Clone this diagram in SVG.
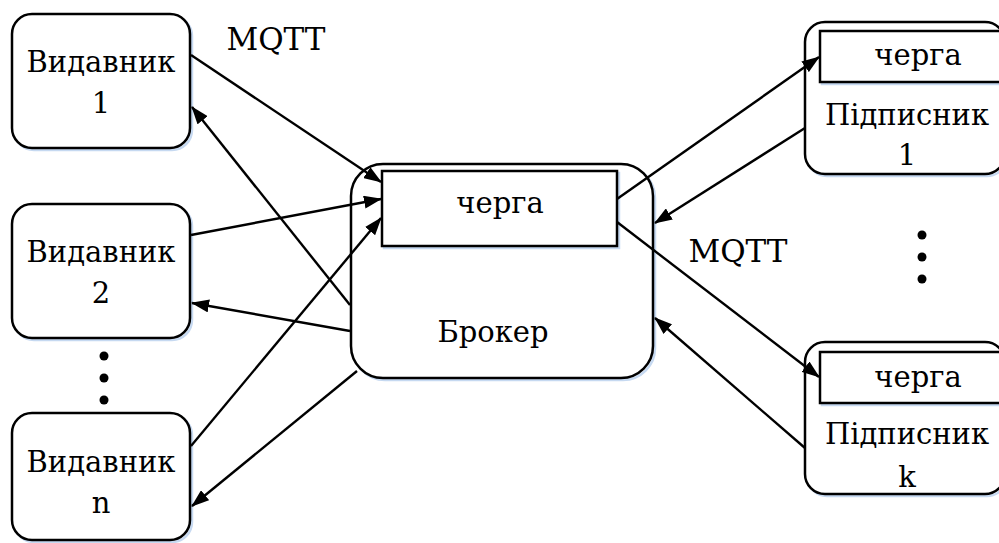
<svg xmlns="http://www.w3.org/2000/svg" width="999" height="543" viewBox="0 0 999 543">
<style>
.box{fill:#fff;stroke:#000;stroke-width:2.5}
.sh{fill:none;stroke:#c6d9f1;stroke-width:2.5}
.q{fill:#fff;stroke:#000;stroke-width:2.5}
.t{font-family:"DejaVu Serif","Liberation Serif",serif;font-size:29px;fill:#000;text-anchor:middle}
.m{font-size:31px}
.c line{stroke:#000;stroke-width:2.4;marker-end:url(#ah)}
</style>
<defs>
<marker id="ah" markerUnits="userSpaceOnUse" markerWidth="19" markerHeight="13" refX="17" refY="6.5" orient="auto">
<path d="M0,0 L18,6.5 L0,13 Z" fill="#000"/>
</marker>
</defs>
<rect width="999" height="543" fill="#fff"/>
<g id="pub1">
<rect class="sh" x="14" y="16" width="178" height="134" rx="20"/>
<rect class="box" x="12" y="14" width="178" height="134" rx="20"/>
<text class="t" x="101" y="72">Видавник</text>
<text class="t" x="101" y="113">1</text>
</g>
<g id="pub2">
<rect class="sh" x="14" y="206" width="178" height="134" rx="20"/>
<rect class="box" x="12" y="204" width="178" height="134" rx="20"/>
<text class="t" x="101" y="262">Видавник</text>
<text class="t" x="101" y="303">2</text>
</g>
<g id="dots-left">
<circle cx="104" cy="356" r="4.5"/>
<circle cx="104" cy="378" r="4.5"/>
<circle cx="104" cy="400" r="4.5"/>
</g>
<g id="pubn">
<rect class="sh" x="14" y="415" width="178" height="127" rx="20"/>
<rect class="box" x="12" y="413" width="178" height="127" rx="20"/>
<text class="t" x="101" y="472">Видавник</text>
<text class="t" x="101" y="513">n</text>
</g>
<g id="broker">
<rect class="sh" x="353" y="166" width="302" height="214" rx="32"/>
<rect class="box" x="351" y="164" width="302" height="214" rx="32"/>
<rect class="sh" x="384" y="173" width="235" height="75"/>
<rect class="q" x="382" y="171" width="235" height="75"/>
<text class="t" x="500" y="213">черга</text>
<text class="t" x="493" y="342">Брокер</text>
</g>
<g id="sub1">
<rect class="sh" x="807" y="24" width="200" height="152" rx="20"/>
<rect class="box" x="805" y="22" width="200" height="152" rx="20"/>
<rect class="sh" x="822" y="33" width="185" height="51"/>
<rect class="q" x="820" y="31" width="185" height="51"/>
<text class="t" x="918" y="65">черга</text>
<text class="t" x="907" y="125">Підписник</text>
<text class="t" x="907" y="165">1</text>
</g>
<g id="dots-right">
<circle cx="922" cy="235" r="4.5"/>
<circle cx="922" cy="257" r="4.5"/>
<circle cx="922" cy="279" r="4.5"/>
</g>
<g id="subk">
<rect class="sh" x="807" y="344" width="200" height="152" rx="20"/>
<rect class="box" x="805" y="342" width="200" height="152" rx="20"/>
<rect class="sh" x="822" y="354" width="185" height="51"/>
<rect class="q" x="820" y="352" width="185" height="51"/>
<text class="t" x="918" y="387">черга</text>
<text class="t" x="907" y="444">Підписник</text>
<text class="t" x="907" y="487">k</text>
</g>
<g id="labels">
<text class="t m" x="276" y="50">MQTT</text>
<text class="t m" x="738" y="262">MQTT</text>
</g>
<g id="connectors" class="c">
<line x1="191" y1="55" x2="381" y2="182"/>
<line x1="350" y1="305" x2="192" y2="107"/>
<line x1="191" y1="235" x2="381" y2="199"/>
<line x1="350" y1="331" x2="192" y2="303"/>
<line x1="191" y1="446" x2="381" y2="218"/>
<line x1="357" y1="371" x2="192" y2="506"/>
<line x1="617" y1="199" x2="819" y2="57"/>
<line x1="805" y1="128" x2="655" y2="223"/>
<line x1="617" y1="222" x2="819" y2="377"/>
<line x1="805" y1="448" x2="655" y2="318"/>
</g>
</svg>
